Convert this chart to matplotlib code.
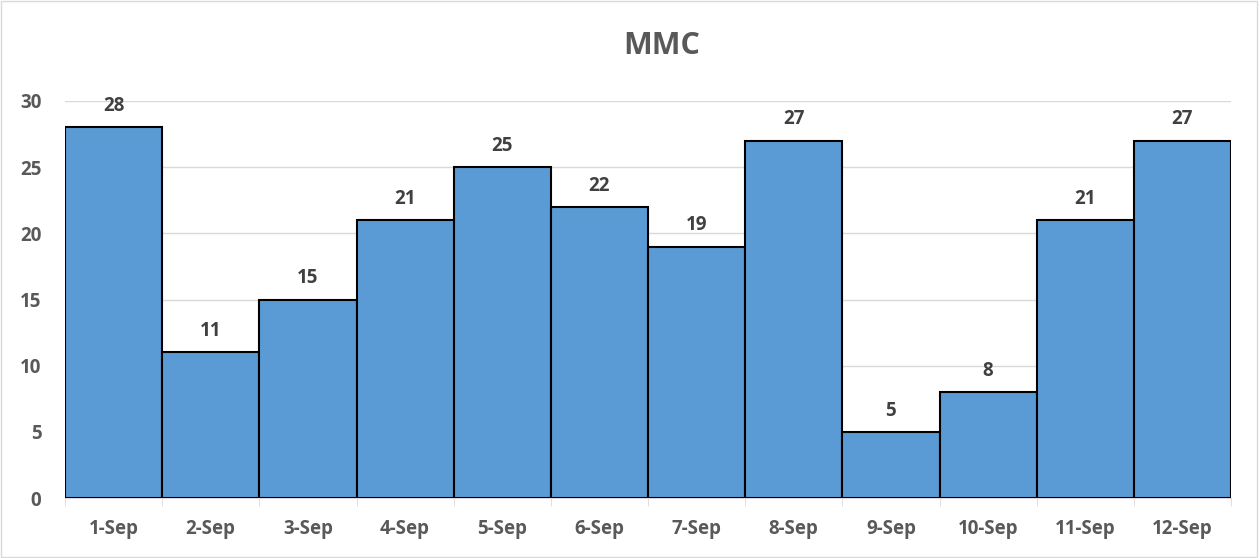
import matplotlib
matplotlib.use("Agg")
from matplotlib import pyplot as plt
import numpy as np

dates = ['1-Sep', '2-Sep', '3-Sep', '4-Sep', '5-Sep', '6-Sep',
         '7-Sep', '8-Sep', '9-Sep', '10-Sep', '11-Sep', '12-Sep']
mmc = [28, 11, 15, 21, 25, 22, 19, 27, 5, 8, 21, 27]

plt.rcParams['font.family'] = ['Open Sans', 'DejaVu Sans']
grey = '#595959'

fig = plt.figure(figsize=(12.6, 5.58), dpi=100)
ax = fig.add_axes([0.0516, 0.1075, 0.9254, 0.7115])

x = np.arange(len(dates))
bars = ax.bar(x, mmc, width=1.0, color='#5B9BD5', edgecolor='black', linewidth=1.5, zorder=3)

for xi, v in zip(x, mmc):
    ax.text(xi, v + 0.85, str(v), ha='center', va='bottom', fontsize=13.5,
            fontweight='bold', color='#404040', zorder=4)

ax.set_xlim(-0.5, len(dates) - 0.5)
ax.set_ylim(0, 30)
ax.set_yticks(np.arange(0, 31, 5))
ax.yaxis.grid(True, color='#D9D9D9', linewidth=1, zorder=0)
ax.set_xticks(x)
ax.set_xticklabels(dates)
ax.set_xticks(np.arange(-0.5, len(dates)), minor=True)
ax.tick_params(axis='x', which='major', length=0, pad=15, labelsize=13.5, labelcolor=grey)
ax.tick_params(axis='x', which='minor', length=6, color='#D9D9D9')
ax.tick_params(axis='y', length=0, pad=17, labelsize=13.5, labelcolor=grey)
for lab in ax.get_xticklabels() + ax.get_yticklabels():
    lab.set_fontweight('bold')

for s in ['top', 'right', 'left']:
    ax.spines[s].set_visible(False)
ax.spines['bottom'].set_color('#D9D9D9')

fig.text(0.525, 0.918, 'MMC', ha='center', va='center', fontsize=22,
         fontweight='bold', color=grey)

fig.patches.append(plt.Rectangle((0.001, 0.002), 0.997, 0.996, transform=fig.transFigure,
                                 fill=False, edgecolor='#D9D9D9', linewidth=1))

fig.savefig('out.png', dpi=100)
